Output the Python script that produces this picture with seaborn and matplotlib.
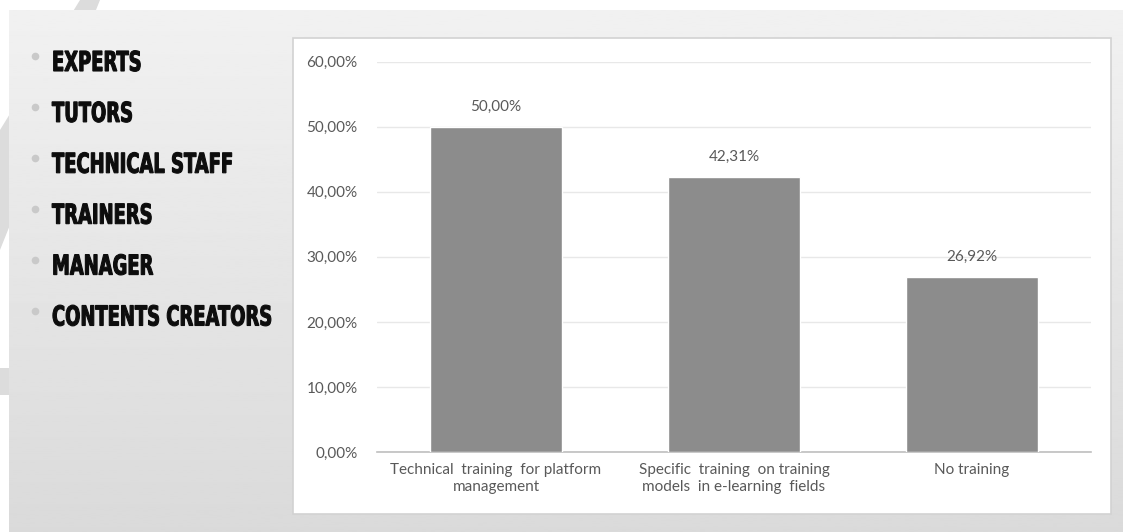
import numpy as np
import pandas as pd
import matplotlib
matplotlib.use("Agg")
import matplotlib.pyplot as plt
from matplotlib.patches import Rectangle, Polygon, PathPatch
from matplotlib.textpath import TextPath
from matplotlib.font_manager import FontProperties
from matplotlib.transforms import Affine2D
from matplotlib.ticker import FuncFormatter
import seaborn as sns

# data
categories = ["Technical training for platform management",
              "Specific training on training models in e-learning fields",
              "No training"]
tick_labels = ["Technical  training  for platform\nmanagement",
               "Specific  training  on training\nmodels  in e-learning  fields",
               "No training"]
shares = [0.50, 0.4231, 0.2692]
roles = ["EXPERTS", "TUTORS", "TECHNICAL STAFF", "TRAINERS", "MANAGER",
         "CONTENTS CREATORS"]

W, H = 1123, 532

sns.set_theme(style="white")
plt.rcParams["font.family"] = ["Lato", "DejaVu Sans"]

fig = plt.figure(figsize=(W / 100, H / 100), dpi=100)
fig.patch.set_facecolor("white")

# background layer in pixel coordinates (y down)
bg = fig.add_axes([0, 0, 1, 1], zorder=0)
bg.set_xlim(0, W)
bg.set_ylim(H, 0)
bg.axis("off")

# gray decorative band in the white margin
bg.add_patch(Polygon([(80, 0), (100, 0), (0, 250), (0, 130)],
                     closed=True, color="#dcdcdc", lw=0))
bg.add_patch(Rectangle((0, 368), 10, 27, color="#dcdcdc", lw=0))

# slide: light gray gradient
grad = np.linspace(0.945, 0.855, 256).reshape(-1, 1)
bg.imshow(grad, cmap="gray", vmin=0, vmax=1, aspect="auto",
          extent=[9, W, H, 10], zorder=1)
bg.set_xlim(0, W)
bg.set_ylim(H, 0)

# chart card
bg.add_patch(Rectangle((293, 38), 818, 476, facecolor="white",
                       edgecolor="#d2d2d2", lw=1.2, zorder=2))

# bullet list, heavy condensed lettering
fp = FontProperties(family="DejaVu Sans", weight="bold")
size = 27.5
widest = TextPath((0, 0), roles[-1], size=size, prop=fp).get_extents().width
sx = 218 / widest
for i, role in enumerate(roles):
    base = 71 + i * 50.9
    bg.plot(35, base - 15, "o", color="#c9c9c9", ms=5.5, mec="none", zorder=3)
    tp = TextPath((0, 0), role, size=size, prop=fp)
    tr = Affine2D().scale(sx, -1).translate(52, base)
    bg.add_patch(PathPatch(tr.transform_path(tp), facecolor="#0d0d0d",
                           edgecolor="#0d0d0d", lw=0.8, zorder=3))

# bar chart
ax = fig.add_axes([377 / W, 80 / H, 714 / W, 390.3 / H], zorder=2)
ax.patch.set_alpha(0)
df = pd.DataFrame({"category": categories, "share": shares})
sns.barplot(data=df, x="category", y="share", color="#8c8c8c",
            width=0.555, saturation=1, ax=ax, zorder=3)

ax.set_ylim(0, 0.6)
ax.set_yticks(np.arange(0, 0.61, 0.1))
ax.yaxis.set_major_formatter(
    FuncFormatter(lambda v, _: f"{v * 100:.2f}%".replace(".", ",")))
ax.grid(axis="y", color="#e8e8e8", lw=1, zorder=0)
ax.set_xticks(range(len(categories)))
ax.set_xticklabels(tick_labels, linespacing=1.3)
ax.tick_params(axis="both", length=0, labelsize=11, colors="#595959")
ax.tick_params(axis="y", pad=14)
ax.tick_params(axis="x", pad=8)
ax.set_xlabel("")
ax.set_ylabel("")
for side in ["top", "right", "left"]:
    ax.spines[side].set_visible(False)
ax.spines["bottom"].set_color("#bfbfbf")
ax.spines["bottom"].set_linewidth(1.2)

for i, v in enumerate(shares):
    ax.annotate(f"{v * 100:.2f}%".replace(".", ","), (i, v),
                xytext=(0, 9), textcoords="offset points",
                ha="center", va="bottom", fontsize=11, color="#595959")

fig.savefig("out.png", dpi=100)
